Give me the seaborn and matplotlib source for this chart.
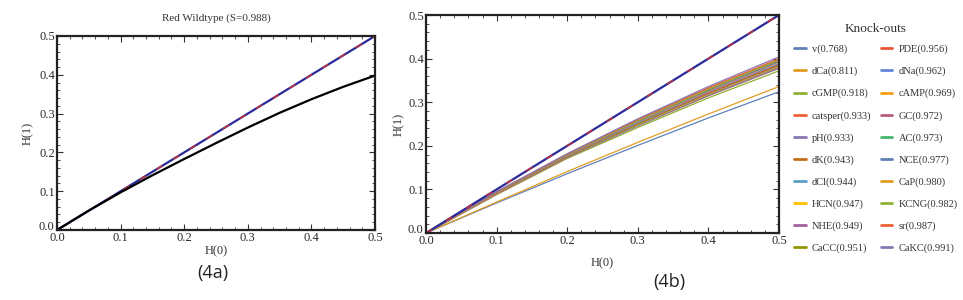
import numpy as np
import pandas as pd
import matplotlib.pyplot as plt
import seaborn as sns
from matplotlib.ticker import MultipleLocator

sns.set_style("ticks")
plt.rcParams['font.family'] = ['Liberation Serif', 'DejaVu Serif']

# panel (4a): wildtype vs diagonal
h0_wt = [0.0, 0.05, 0.1, 0.15, 0.2, 0.25, 0.3, 0.35, 0.4, 0.45, 0.5]
wildtype = [0.0, 0.050, 0.097, 0.141, 0.183, 0.224, 0.264, 0.302, 0.337, 0.369, 0.398]
diagonal = [0.0, 0.5]

# panel (4b): knock-outs, read at H(0) = 0, 0.1, ... 0.5
h0 = [0.0, 0.1, 0.2, 0.3, 0.4, 0.5]
ko_names = ['v(0.768)', 'dCa(0.811)', 'cGMP(0.918)', 'catsper(0.933)', 'pH(0.933)',
            'dK(0.943)', 'dCl(0.944)', 'HCN(0.947)', 'NHE(0.949)', 'CaCC(0.951)',
            'PDE(0.956)', 'dNa(0.962)', 'cAMP(0.969)', 'GC(0.972)', 'AC(0.973)',
            'NCE(0.977)', 'CaP(0.980)', 'KCNG(0.982)', 'sr(0.987)', 'CaKC(0.991)']
ko_colors = ['#5E81B5', '#E19C24', '#8FB032', '#EB6235', '#8778B3',
             '#C56E1A', '#5D9EC7', '#FFBF00', '#A5609D', '#929600',
             '#E95536', '#6685D9', '#F89F13', '#BC5B80', '#47B66D',
             '#5E81B5', '#E19C24', '#8FB032', '#EB6235', '#8778B3']
v = [0, .069, .136, .201, .264, .324]
dCa = [0, .071, .141, .208, .273, .336]
cGMP = [0, .088, .171, .242, .310, .372]
catsper = [0, .089, .173, .246, .315, .378]
pH = [0, .089, .173, .246, .315, .378]
dK = [0, .090, .174, .248, .317, .381]
dCl = [0, .090, .174, .248, .318, .382]
HCN = [0, .090, .175, .249, .319, .383]
NHE = [0, .091, .175, .250, .320, .384]
CaCC = [0, .091, .175, .250, .321, .385]
PDE = [0, .091, .176, .252, .322, .387]
dNa = [0, .092, .177, .253, .324, .389]
cAMP = [0, .093, .178, .255, .326, .392]
GC = [0, .093, .178, .256, .327, .393]
AC = [0, .093, .179, .256, .328, .394]
NCE = [0, .093, .179, .257, .329, .395]
CaP = [0, .094, .180, .258, .330, .397]
KCNG = [0, .094, .180, .259, .331, .398]
sr = [0, .094, .181, .260, .333, .400]
CaKC = [0, .095, .182, .262, .336, .404]
ko_values = [v, dCa, cGMP, catsper, pH, dK, dCl, HCN, NHE, CaCC,
             PDE, dNa, cAMP, GC, AC, NCE, CaP, KCNG, sr, CaKC]

tick_vals = [0.0, 0.1, 0.2, 0.3, 0.4, 0.5]
tick_text = ['0.0', '0.1', '0.2', '0.3', '0.4', '0.5']

rows = []
for name, vals in zip(ko_names, ko_values):
    for x, y in zip(h0, vals):
        rows.append({'H0': x, 'H1': y, 'ko': name})
ko_df = pd.DataFrame(rows)

fig = plt.figure(figsize=(9.63, 3.0), dpi=100)
ax1 = fig.add_axes([0.0592, 0.2333, 0.3302, 0.6467])
ax2 = fig.add_axes([0.4424, 0.2233, 0.3666, 0.7267])


def style_frame(ax, xpad, ypad):
    ax.set_xticks(tick_vals, tick_text)
    # y "0.0" is drawn separately so it sits a little above the corner
    ax.set_yticks(tick_vals, [''] + tick_text[1:])
    ax.set_xlim(0, 0.5)
    ax.set_ylim(0, 0.5)
    ax.xaxis.set_minor_locator(MultipleLocator(0.02))
    ax.yaxis.set_minor_locator(MultipleLocator(0.02))
    ax.tick_params(which='both', direction='in', top=True, right=True,
                   labelsize=9, labelcolor='#2a2a2a', color='#333333', pad=1.5)
    ax.tick_params(which='major', length=4, width=0.8)
    ax.tick_params(which='minor', length=2, width=0.6)
    ax.annotate(tick_text[0], xy=(0, 0), xycoords=('axes fraction', 'data'),
                xytext=(-2.3, 2.5), textcoords='offset points', ha='right', va='center',
                fontsize=9, color='#2a2a2a', annotation_clip=False)
    for s in ax.spines.values():
        s.set_linewidth(1.6)
        s.set_color('#222222')
    ax.set_xlabel('H(0)', fontsize=9, color='#333333', labelpad=xpad)
    ax.set_ylabel('H(1)', fontsize=9, color='#333333', labelpad=ypad)


# (4a)
sns.lineplot(x=diagonal, y=diagonal, ax=ax1, color='#2a2a9a', lw=1.6)
sns.lineplot(x=diagonal, y=diagonal, ax=ax1, color='#d03030', lw=1.0, linestyle=(0, (5, 9)))
sns.lineplot(x=h0_wt, y=wildtype, ax=ax1, color='black', lw=1.6)
style_frame(ax1, 1, 4)
ax1.set_title('Red Wildtype (S=0.988)', fontsize=8, color='#333333', pad=11)

# (4b)
sns.lineplot(data=ko_df, x='H0', y='H1', hue='ko', palette=ko_colors, ax=ax2,
             lw=0.9, legend=False, sort=False)
sns.lineplot(x=diagonal, y=diagonal, ax=ax2, color='#2a2a9a', lw=1.6)
sns.lineplot(x=diagonal, y=diagonal, ax=ax2, color='#d03030', lw=1.0, linestyle=(0, (5, 12)))
style_frame(ax2, 7, 2)

handles = [plt.Line2D([], [], color=c, lw=2) for c in ko_colors]
leg = fig.legend(handles, ko_names, ncol=2, loc='upper left',
                 bbox_to_anchor=(0.815, 0.955), frameon=False,
                 title='Knock-outs', fontsize=7.5, title_fontsize=9.5,
                 handlelength=1.1, handletextpad=0.6, columnspacing=0.9,
                 labelspacing=1.2)
leg._legend_box.sep = 7
for t in leg.get_texts():
    t.set_color('#333333')
leg.get_title().set_color('#333333')

fig.text(0.221, 0.09, '(4a)', fontsize=13, family='Open Sans', color='#222222', ha='center', va='center')
fig.text(0.695, 0.06, '(4b)', fontsize=13, family='Open Sans', color='#222222', ha='center', va='center')

fig.savefig('out.png', dpi=100)
